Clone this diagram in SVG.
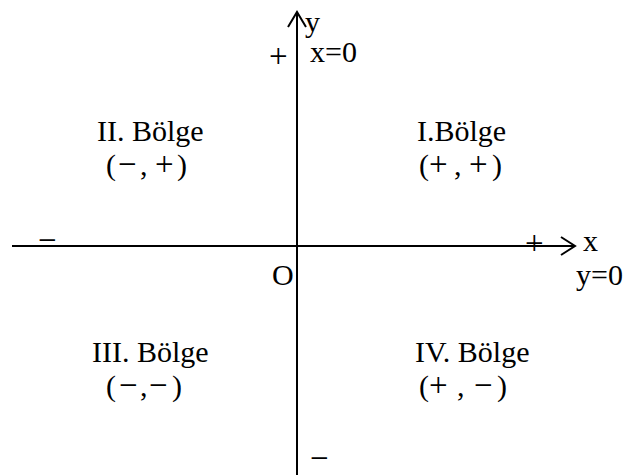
<svg xmlns="http://www.w3.org/2000/svg" width="624" height="475" viewBox="0 0 624 475">
<style>
text{font-family:"Liberation Serif","Times New Roman",serif;font-size:30px;fill:#000}
.s{font-size:33px}
.ax{stroke:#000;stroke-width:2;fill:none}
</style>
<rect width="624" height="475" fill="#fff"/>
<g id="axes">
<line class="ax" x1="12" y1="246" x2="575" y2="246"/>
<polyline class="ax" points="561,237 575,246 561,255"/>
<line class="ax" x1="297" y1="12" x2="297" y2="475"/>
<polyline class="ax" points="288,27 297,12 306,27"/>
</g>
<g id="axis-labels">
<text x="305" y="32">y</text>
<text class="s" x="269" y="67">+</text>
<text x="310" y="62">x=0</text>
<text class="s" x="38" y="251">−</text>
<text class="s" x="525" y="254">+</text>
<text x="583" y="251">x</text>
<text x="272" y="285">O</text>
<text x="576" y="285">y=0</text>
<text class="s" x="310" y="469">−</text>
</g>
<g id="q2">
<text x="97" y="141">II. Bölge</text>
<text y="175"><tspan x="106">(</tspan><tspan class="s" x="118">−</tspan><tspan x="140">,</tspan><tspan class="s" x="155">+</tspan><tspan x="177">)</tspan></text>
</g>
<g id="q1">
<text x="417" y="141">I.Bölge</text>
<text y="175"><tspan x="419">(</tspan><tspan class="s" x="429">+</tspan><tspan x="454">,</tspan><tspan class="s" x="469">+</tspan><tspan x="492">)</tspan></text>
</g>
<g id="q3">
<text x="92" y="362">III. Bölge</text>
<text y="396"><tspan x="106">(</tspan><tspan class="s" x="119">−</tspan><tspan x="140">,</tspan><tspan class="s" x="149">−</tspan><tspan x="172">)</tspan></text>
</g>
<g id="q4">
<text x="415" y="362">IV. Bölge</text>
<text y="396"><tspan x="419">(</tspan><tspan class="s" x="429">+</tspan><tspan x="457">,</tspan><tspan class="s" x="474">−</tspan><tspan x="497">)</tspan></text>
</g>
</svg>
